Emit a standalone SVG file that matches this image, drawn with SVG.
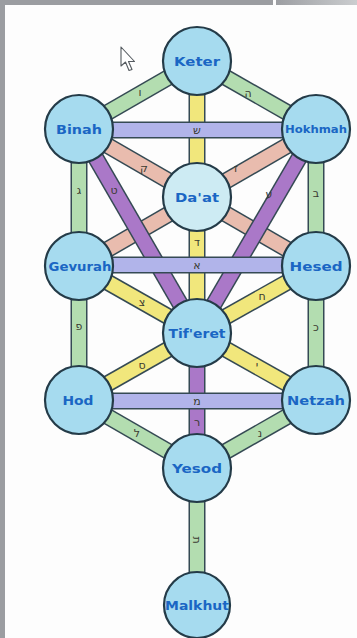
<svg xmlns="http://www.w3.org/2000/svg" width="357" height="638" viewBox="0 0 357 638">
<style>
.o{stroke:#354a54;stroke-width:17;stroke-linecap:butt;fill:none}
.f{stroke-width:14;stroke-linecap:butt;fill:none}
.pk{stroke:#e9bcae}
.pu{stroke:#aa78c8}
.ye{stroke:#f1e77c}
.gr{stroke:#b3ddb0}
.bl{stroke:#b1b4ea}
.node circle{fill:#a6dbef;stroke:#243b48;stroke-width:2.2}
.node text{font-family:"DejaVu Sans","Liberation Sans",sans-serif;font-weight:bold;fill:#1a66c4;text-anchor:middle}
.lt{font-family:"DejaVu Sans","Noto Sans",sans-serif;font-size:11px;fill:#3a3a30;text-anchor:middle}
</style>
<defs>
<linearGradient id="tg" x1="0" y1="0" x2="1" y2="0">
<stop offset="0" stop-color="#9c9ea2"/>
<stop offset="1" stop-color="#cbcdcf"/>
</linearGradient>
</defs>
<rect x="0" y="0" width="357" height="638" fill="#fdfdfd"/>
<rect x="0" y="0" width="5" height="638" fill="#9b9da1"/>
<rect x="0" y="0" width="273" height="5" fill="#9b9da1"/>
<rect x="276" y="0" width="81" height="5" fill="url(#tg)"/>

<g id="connectors">
  <!-- pink -->
  <line class="o" x1="79" y1="129" x2="316" y2="266"/><line class="f pk" x1="79" y1="129" x2="316" y2="266"/>
  <line class="o" x1="316" y1="129" x2="79" y2="266"/><line class="f pk" x1="316" y1="129" x2="79" y2="266"/>
  <!-- purple -->
  <line class="o" x1="79" y1="129" x2="197" y2="333"/><line class="f pu" x1="79" y1="129" x2="197" y2="333"/>
  <line class="o" x1="316" y1="129" x2="197" y2="333"/><line class="f pu" x1="316" y1="129" x2="197" y2="333"/>
  <line class="o" x1="197" y1="333" x2="197" y2="468"/><line class="f pu" x1="197" y1="333" x2="197" y2="468"/>
  <!-- yellow -->
  <line class="o" x1="197" y1="61" x2="197" y2="333"/><line class="f ye" x1="197" y1="61" x2="197" y2="333"/>
  <line class="o" x1="79" y1="266" x2="197" y2="333"/><line class="f ye" x1="79" y1="266" x2="197" y2="333"/>
  <line class="o" x1="316" y1="266" x2="197" y2="333"/><line class="f ye" x1="316" y1="266" x2="197" y2="333"/>
  <line class="o" x1="197" y1="333" x2="79" y2="400"/><line class="f ye" x1="197" y1="333" x2="79" y2="400"/>
  <line class="o" x1="197" y1="333" x2="316" y2="400"/><line class="f ye" x1="197" y1="333" x2="316" y2="400"/>
  <!-- green -->
  <line class="o" x1="197" y1="61" x2="79" y2="129"/><line class="f gr" x1="197" y1="61" x2="79" y2="129"/>
  <line class="o" x1="197" y1="61" x2="316" y2="129"/><line class="f gr" x1="197" y1="61" x2="316" y2="129"/>
  <line class="o" x1="79" y1="129" x2="79" y2="400"/><line class="f gr" x1="79" y1="129" x2="79" y2="400"/>
  <line class="o" x1="316" y1="129" x2="316" y2="400"/><line class="f gr" x1="316" y1="129" x2="316" y2="400"/>
  <line class="o" x1="79" y1="400" x2="197" y2="468"/><line class="f gr" x1="79" y1="400" x2="197" y2="468"/>
  <line class="o" x1="316" y1="400" x2="197" y2="468"/><line class="f gr" x1="316" y1="400" x2="197" y2="468"/>
  <line class="o" x1="197" y1="468" x2="197" y2="605"/><line class="f gr" x1="197" y1="468" x2="197" y2="605"/>
  <!-- blue -->
  <line class="o" x1="79" y1="130" x2="316" y2="130"/><line class="f bl" x1="79" y1="130" x2="316" y2="130"/>
  <line class="o" x1="79" y1="265" x2="316" y2="265"/><line class="f bl" x1="79" y1="265" x2="316" y2="265"/>
  <line class="o" x1="79" y1="401" x2="316" y2="401"/><line class="f bl" x1="79" y1="401" x2="316" y2="401"/>
  <!-- letters -->
  <text class="lt" x="140" y="96">ו</text>
  <text class="lt" x="248" y="97">ה</text>
  <text class="lt" x="197" y="134">ש</text>
  <text class="lt" x="144" y="172">ק</text>
  <text class="lt" x="236" y="172">ז</text>
  <text class="lt" x="114" y="194">ט</text>
  <text class="lt" x="269" y="198">ע</text>
  <text class="lt" x="79" y="194">ג</text>
  <text class="lt" x="316" y="197">ב</text>
  <text class="lt" x="197" y="246">ד</text>
  <text class="lt" x="197" y="269">א</text>
  <text class="lt" x="142" y="306">צ</text>
  <text class="lt" x="262" y="300">ח</text>
  <text class="lt" x="79" y="330">פ</text>
  <text class="lt" x="316" y="331">כ</text>
  <text class="lt" x="142" y="369">ס</text>
  <text class="lt" x="257" y="369">י</text>
  <text class="lt" x="197" y="405">מ</text>
  <text class="lt" x="197" y="426">ר</text>
  <text class="lt" x="137" y="437">ל</text>
  <text class="lt" x="260" y="437">נ</text>
  <text class="lt" x="197" y="544" transform="rotate(90 197 540)">ת</text>
</g>

<g id="cursor">
  <polygon points="121,47 121,66 125.5,62 129,70.5 132,69.5 128.5,61.5 134.5,61.5" fill="#ffffff" stroke="#555b60" stroke-width="1.1" stroke-linejoin="round"/>
</g>

<g id="keter" class="node"><circle cx="197" cy="61" r="34"/><text x="197" y="66" font-size="13" textLength="46" lengthAdjust="spacingAndGlyphs">Keter</text></g>
<g id="binah" class="node"><circle cx="79" cy="129" r="34"/><text x="79" y="134" font-size="13" textLength="46" lengthAdjust="spacingAndGlyphs">Binah</text></g>
<g id="hokhmah" class="node"><circle cx="316" cy="129" r="34"/><text x="316" y="133" font-size="11" textLength="62" lengthAdjust="spacingAndGlyphs">Hokhmah</text></g>
<g id="daat" class="node"><circle cx="197" cy="197" r="34" style="fill:#cdebf3"/><text x="197" y="202" font-size="13" textLength="44" lengthAdjust="spacingAndGlyphs">Da'at</text></g>
<g id="gevurah" class="node"><circle cx="79" cy="266" r="34"/><text x="80" y="270.5" font-size="12" textLength="63" lengthAdjust="spacingAndGlyphs">Gevurah</text></g>
<g id="hesed" class="node"><circle cx="316" cy="266" r="34"/><text x="316" y="271" font-size="13" textLength="53" lengthAdjust="spacingAndGlyphs">Hesed</text></g>
<g id="tiferet" class="node"><circle cx="197" cy="333" r="34"/><text x="197" y="338" font-size="13" textLength="57" lengthAdjust="spacingAndGlyphs">Tif'eret</text></g>
<g id="hod" class="node"><circle cx="79" cy="400" r="34"/><text x="78" y="405" font-size="13" textLength="31" lengthAdjust="spacingAndGlyphs">Hod</text></g>
<g id="netzah" class="node"><circle cx="316" cy="400" r="34"/><text x="316" y="405" font-size="13" textLength="58" lengthAdjust="spacingAndGlyphs">Netzah</text></g>
<g id="yesod" class="node"><circle cx="197" cy="468" r="34"/><text x="197" y="473" font-size="13" textLength="50" lengthAdjust="spacingAndGlyphs">Yesod</text></g>
<g id="malkhut" class="node"><circle cx="197" cy="605" r="33"/><text x="197" y="609.5" font-size="12" textLength="64" lengthAdjust="spacingAndGlyphs">Malkhut</text></g>
</svg>
